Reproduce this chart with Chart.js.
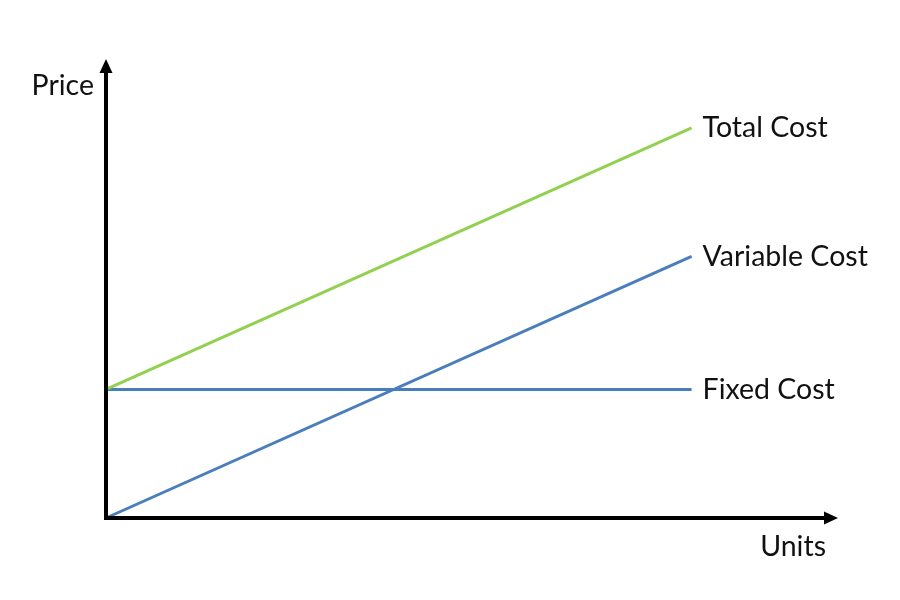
<!DOCTYPE html>
<html>
<head>
<meta charset="utf-8">
<script src="https://cdn.jsdelivr.net/npm/chart.js@4/dist/chart.umd.min.js"></script>
<style>
  html, body { margin: 0; padding: 0; background: #fff; }
  #wrap { width: 900px; height: 600px; }
</style>
</head>
<body>
<div id="wrap"><canvas id="c" width="900" height="600"></canvas></div>
<script>
  // values (x in units, y in price; axes run 0..12.5 and 0..10)
  const units = [0, 10];
  const fixedCost = [2.8, 2.8];
  const variableCost = [0, 5.7];
  const totalCost = [2.8, 8.5];
  const seriesNames = ['Total Cost', 'Variable Cost', 'Fixed Cost'];
  const axisLabels = { x: 'Units', y: 'Price' };

  const FONT = '28.5px Lato, "Open Sans", sans-serif';
  const pts = arr => units.map((u, i) => ({ x: u, y: arr[i] }));

  const axesAndLabels = {
    id: 'axesAndLabels',
    afterDatasetsDraw(chart) {
      const { ctx, chartArea: a } = chart;
      ctx.save();
      ctx.strokeStyle = '#000';
      ctx.fillStyle = '#000';
      ctx.lineWidth = 4;
      // y axis
      ctx.beginPath();
      ctx.moveTo(a.left, a.bottom + 2);
      ctx.lineTo(a.left, a.top + 12);
      ctx.stroke();
      ctx.beginPath();
      ctx.moveTo(a.left, a.top);
      ctx.lineTo(a.left - 6.5, a.top + 14);
      ctx.lineTo(a.left + 6.5, a.top + 14);
      ctx.closePath();
      ctx.fill();
      // x axis
      ctx.beginPath();
      ctx.moveTo(a.left - 2, a.bottom);
      ctx.lineTo(a.right - 12, a.bottom);
      ctx.stroke();
      ctx.beginPath();
      ctx.moveTo(a.right, a.bottom);
      ctx.lineTo(a.right - 14, a.bottom - 6.5);
      ctx.lineTo(a.right - 14, a.bottom + 6.5);
      ctx.closePath();
      ctx.fill();

      // series labels at the line ends
      ctx.font = FONT;
      ctx.fillStyle = '#111';
      ctx.textBaseline = 'middle';
      ctx.textAlign = 'left';
      chart.data.datasets.forEach((ds, i) => {
        const meta = chart.getDatasetMeta(i);
        const last = meta.data[meta.data.length - 1];
        ctx.fillText(ds.label, last.x + 11, last.y);
      });
      // axis names
      ctx.textAlign = 'right';
      ctx.fillText(axisLabels.y, a.left - 12, a.top + 27);
      ctx.fillText(axisLabels.x, a.right - 12, a.bottom + 29);
      ctx.restore();
    }
  };

  new Chart(document.getElementById('c'), {
    type: 'line',
    data: {
      datasets: [
        { label: seriesNames[0], data: pts(totalCost), borderColor: '#92D050' },
        { label: seriesNames[1], data: pts(variableCost), borderColor: '#4A7EBB' },
        { label: seriesNames[2], data: pts(fixedCost), borderColor: '#4A7EBB' }
      ]
    },
    options: {
      responsive: false,
      animation: false,
      events: [],
      layout: { padding: { left: 106, top: 59, right: 62, bottom: 82 } },
      elements: {
        line: { borderWidth: 3, tension: 0 },
        point: { radius: 0 }
      },
      datasets: { line: { clip: false } },
      plugins: { legend: { display: false }, tooltip: { enabled: false } },
      scales: {
        x: { type: 'linear', min: 0, max: 12.5, display: false },
        y: { type: 'linear', min: 0, max: 10, display: false }
      }
    },
    plugins: [axesAndLabels]
  });
</script>
</body>
</html>
